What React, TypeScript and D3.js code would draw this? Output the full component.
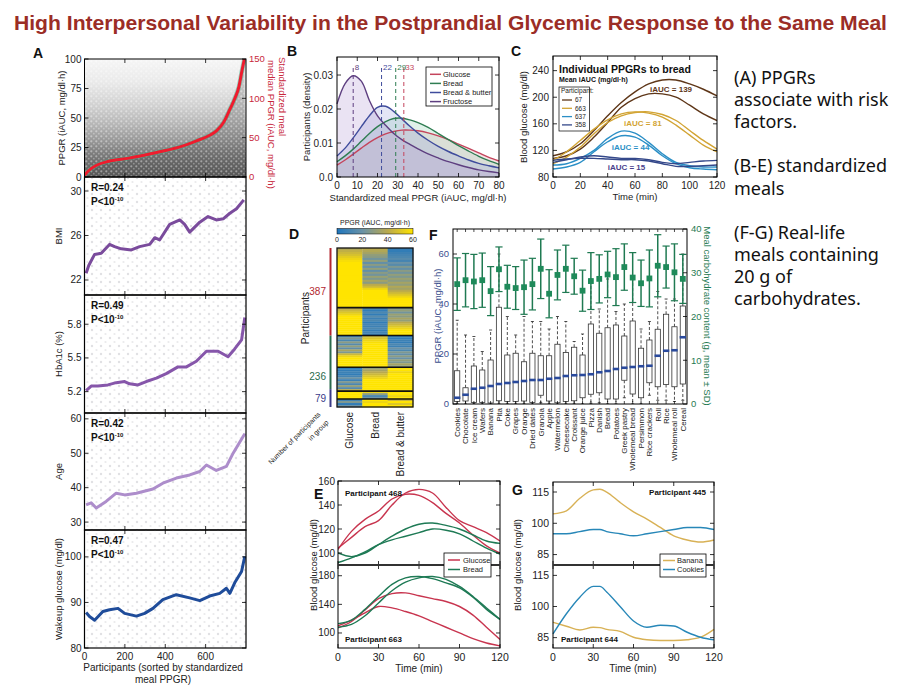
import React from "react";
import * as d3 from "d3";

const FONT = "'Liberation Sans', Arial, Helvetica, sans-serif";

// ================= Panel A data =================
const aSortIdx = [0, 20, 60, 120, 220, 300, 390, 480, 555, 620, 655, 690, 720, 745, 765, 780, 792];
const aMedianPPGR = [2, 8, 15, 20, 24, 28, 33, 39, 46, 53, 59, 70, 86, 100, 115, 135, 150];
const aCloudLevels = [0, 10, 20, 30, 45, 60, 80, 100];
const aCloudDensity = [0.9, 0.82, 0.72, 0.58, 0.4, 0.26, 0.12, 0.05];
const aXTicks = [0, 200, 400, 600];
const aTopTicks = [0, 25, 50, 75, 100];
const aRightTicks = [0, 50, 100, 150];

const bmiIdx = [8, 21, 50, 83, 124, 149, 182, 232, 273, 323, 348, 372, 422, 472, 496, 521, 571, 612, 653, 687, 720, 753, 789];
const bmiVal = [22.6, 23.3, 24.3, 24.4, 25.2, 25.0, 24.8, 24.7, 25.0, 25.2, 25.8, 25.6, 27.0, 27.4, 27.0, 26.3, 27.2, 27.7, 27.4, 27.5, 28.0, 28.4, 29.2];
const hbIdx = [8, 33, 66, 116, 157, 199, 223, 265, 306, 356, 405, 463, 505, 554, 604, 662, 711, 744, 778, 794];
const hbVal = [5.21, 5.25, 5.25, 5.26, 5.28, 5.29, 5.27, 5.26, 5.29, 5.32, 5.36, 5.42, 5.42, 5.47, 5.56, 5.56, 5.51, 5.58, 5.66, 5.86];
const ageIdx = [8, 33, 58, 107, 157, 199, 257, 339, 388, 455, 521, 571, 604, 653, 703, 737, 794];
const ageVal = [35.0, 35.6, 34.1, 36.0, 38.4, 37.9, 38.4, 39.6, 41.3, 42.8, 43.7, 44.7, 46.6, 45.0, 46.2, 50.1, 55.7];
const wakeIdx = [8, 25, 50, 91, 124, 166, 199, 257, 298, 339, 388, 455, 521, 571, 620, 670, 703, 720, 744, 778, 794];
const wakeVal = [87.8, 86.9, 86.1, 88.0, 88.4, 88.7, 87.6, 87.0, 87.6, 88.7, 90.6, 91.7, 91.0, 90.4, 91.4, 92.0, 93.1, 92.0, 94.3, 96.8, 100.1];

const aSubplots = [
  { name: "BMI", domain: [20.65, 31.26], ticks: [22, 26, 30], dec: 0, idx: bmiIdx, val: bmiVal, color: "#7a4b9c", R: "0.24" },
  { name: "HbA1c (%)", domain: [5.01, 6.06], ticks: [5.2, 5.5, 5.8], dec: 1, idx: hbIdx, val: hbVal, color: "#8656aa", R: "0.49" },
  { name: "Age", domain: [27.7, 61.7], ticks: [30, 40, 50, 60], dec: 0, idx: ageIdx, val: ageVal, color: "#ad8dcb", R: "0.42" },
  { name: "Wakeup glucose (mg/dl)", domain: [80, 105.9], ticks: [80, 90, 100], dec: 0, idx: wakeIdx, val: wakeVal, color: "#1f4c9a", R: "0.47" },
];

// ================= Panel B data =================
const bGrid = [0, 4, 8, 12, 16, 20, 24, 28, 32, 36, 40, 45, 50, 55, 60, 65, 70, 75, 80];
const bGlucose = [0.0035, 0.005, 0.0067, 0.0085, 0.0102, 0.0116, 0.0127, 0.0134, 0.0138, 0.0138, 0.0136, 0.013, 0.0121, 0.011, 0.0097, 0.0084, 0.0071, 0.0058, 0.0047];
const bBread = [0.0045, 0.0062, 0.0082, 0.0105, 0.0128, 0.0148, 0.0163, 0.0172, 0.0173, 0.0168, 0.016, 0.0146, 0.0128, 0.011, 0.0092, 0.0076, 0.0061, 0.0048, 0.0037];
const bBreadButter = [0.0062, 0.0085, 0.0115, 0.0148, 0.018, 0.0205, 0.0208, 0.0193, 0.0171, 0.0149, 0.0129, 0.0108, 0.009, 0.0075, 0.0062, 0.005, 0.004, 0.0033, 0.0027];
const bFructose = [0.0215, 0.0275, 0.0298, 0.0282, 0.0225, 0.018, 0.0152, 0.0128, 0.011, 0.0096, 0.0083, 0.0068, 0.0056, 0.0045, 0.0036, 0.0028, 0.0021, 0.0016, 0.0012];
const bNames = ["Glucose", "Bread", "Bread & butter", "Fructose"];
const bValues = [bGlucose, bBread, bBreadButter, bFructose];
const bLineColors = ["#c4455c", "#2f7d52", "#3f4c9c", "#5e3f80"];
const bFillColors = ["#e2a0a8", "#8fd0b0", "#9aa5e0", "#b49ad4"];
const bPeaks = [33, 29, 22, 8];
const bXTicks = [0, 10, 20, 30, 40, 50, 60, 70, 80];
const bYTicks = [0, 0.01, 0.02, 0.03];

// ================= Panel C data =================
const cTime = [0, 10, 20, 30, 40, 50, 60, 70, 80, 90, 100, 110, 120];
const c67a = [112, 118, 130, 150, 172, 192, 208, 220, 226, 226, 220, 212, 202];
const c67b = [108, 112, 122, 140, 162, 185, 198, 205, 205, 200, 188, 175, 165];
const c663a = [105, 118, 135, 152, 166, 175, 178, 176, 170, 158, 143, 128, 118];
const c663b = [100, 110, 125, 145, 162, 172, 177, 178, 174, 165, 150, 135, 122];
const c637a = [98, 100, 108, 120, 138, 149, 146, 132, 115, 102, 97, 95, 95];
const c637b = [92, 95, 102, 118, 133, 142, 140, 128, 112, 100, 94, 92, 91];
const c358a = [102, 106, 110, 112, 110, 108, 108, 106, 102, 100, 102, 104, 105];
const c358b = [105, 107, 108, 108, 107, 106, 106, 104, 100, 96, 96, 97, 98];
const cParticipants = ["67", "663", "637", "358"];
const cCurves = [[c67a, c67b], [c663a, c663b], [c637a, c637b], [c358a, c358b]];
const cColors = ["#5e3618", "#d2a434", "#2b8fc6", "#34488a"];
const cIAUC = [139, 81, 44, 15];
const cLabelPos = [[71, 212], [52, 161], [43, 125], [40, 95]];
const cXTicks = [0, 20, 40, 60, 80, 100, 120];
const cYTicks = [80, 120, 160, 200, 240];

// ================= Panel D data =================
const dColumns = ["Glucose", "Bread", "Bread & butter"];
const dGroupSizes = [30, 14, 16, 12, 4, 4];
const dRows: number[][] = [
  [38, 40, 5], [42, 38, 5], [45, 35, 8], [48, 30, 10], [52, 28, 12], [55, 22, 15], [58, 30, 10], [60, 18, 20],
  [60, 28, 15], [60, 20, 25], [60, 30, 18], [60, 18, 28], [60, 28, 22], [60, 22, 30], [60, 32, 25], [60, 25, 32],
  [60, 35, 28], [60, 28, 35], [60, 40, 30], [60, 45, 38], [60, 55, 34], [60, 60, 40], [60, 60, 45], [60, 60, 50],
  [60, 60, 55], [60, 60, 60], [60, 60, 60], [60, 60, 60], [60, 60, 60], [60, 60, 60],
  [40, 10, 25], [45, 5, 30], [50, 12, 22], [55, 5, 32], [60, 15, 28], [60, 8, 35], [60, 12, 30], [60, 5, 40],
  [60, 10, 45], [60, 8, 50], [60, 12, 55], [60, 5, 60], [60, 10, 60], [60, 6, 60],
  [10, 45, 5], [25, 50, 5], [12, 55, 8], [28, 58, 5], [15, 60, 12], [30, 60, 8], [18, 60, 20], [35, 60, 12],
  [25, 60, 25], [45, 60, 18], [55, 60, 28], [60, 60, 20], [60, 60, 30], [60, 60, 25], [60, 60, 35], [60, 60, 30],
  [5, 30, 60], [5, 35, 60], [8, 40, 55], [5, 45, 60], [10, 50, 60], [20, 55, 60], [8, 60, 60], [25, 60, 60],
  [12, 60, 60], [30, 60, 60], [15, 60, 60], [40, 60, 60],
  [60, 55, 60], [60, 30, 60], [60, 12, 55], [60, 20, 60],
  [10, 60, 45], [25, 55, 60], [5, 60, 50], [20, 60, 60],
];
const dCounts = [387, 236, 79];
const dCountColors = ["#b3262f", "#2a6b4c", "#3a3a88"];
const dBarTicks = [0, 20, 40, 60];
const dColorStops = [0, 20, 40, 60];
const dColorRange = ["#1f76bd", "#6a92a6", "#b9a94e", "#ffe400"];

// ================= Panel F data =================
const fFoods = ["Cookies", "Chocolate", "Ice cream", "Wafers", "Banana", "Pita", "Coke", "Grapes", "Orange", "Dried dates", "Granola", "Apple", "Watermelon", "Cheesecake", "Croissant", "Orange juice", "Pizza", "Danish", "Bread", "Potatoes", "Greek pastry", "Wholemeal bread", "Persimmon", "Rice crackers", "Roll", "Rice", "Wholemeal roll", "Cereal"];
const fMedian = [2.5, 3.7, 6.1, 6.5, 7.2, 8.0, 8.4, 8.8, 9.2, 9.6, 9.6, 10.1, 10.4, 11.2, 11.5, 11.6, 11.9, 12.7, 13.2, 14.0, 14.5, 14.8, 15.1, 15.3, 19.3, 21.3, 21.5, 26.7];
const fQ1 = [1.0, 1.2, 0.6, 0.6, 0.4, 1.3, 1.0, 1.0, 1.2, 0.6, 3.5, 1.2, 0.5, 1.0, 1.3, 2.5, 3.9, 4.5, 2.0, 2.0, 9.5, 4.0, 2.5, 8.5, 6.9, 7.8, 6.9, 8.0];
const fQ3 = [13.3, 6.5, 15.2, 13.6, 17.6, 38.7, 19.6, 20.3, 16.9, 20.3, 19.3, 19.3, 23.9, 20.6, 22.7, 19.6, 32.0, 28.3, 30.5, 31.6, 27.2, 33.2, 22.3, 25.6, 29.9, 35.9, 30.9, 39.2];
const fWhiskLo = [0, 0, 0, 0, 0, 0, 0, 0, 0, 0, 0.5, 0, 0, 0, 0, 0, 0.3, 0.5, 0, 0, 2.5, 0, 0, 3.5, 1.5, 1.5, 1, 1.5];
const fWhiskHi = [33.5, 27.6, 27, 21, 29.6, 60, 35, 27.6, 35, 33, 33, 30, 35, 33, 25, 28, 50, 38, 50, 37, 40, 50, 30, 33, 45, 42, 42, 60];
const fCarbMean = [27.4, 28.3, 28.0, 28.3, 25.8, 30.8, 26.8, 26.5, 26.7, 27.4, 30.9, 25.2, 29.5, 30.9, 29.2, 25.9, 28.1, 28.6, 29.6, 29.0, 31.3, 28.9, 27.6, 28.7, 31.6, 31.3, 30.1, 28.6];
const fCarbSD = [6.0, 6.1, 6.2, 6.2, 5.6, 5.1, 4.9, 4.9, 6.2, 5.9, 6.8, 5.5, 5.7, 5.4, 4.1, 4.7, 6.5, 5.5, 5.3, 6.5, 5.3, 5.7, 5.3, 6.5, 7.1, 4.8, 6.5, 5.6];
const fLeftTicks = [0, 20, 40, 60];
const fRightTicks = [0, 10, 20, 30, 40];

// ================= Panel E data =================
const eTime = [0, 10, 20, 30, 40, 50, 60, 70, 80, 90, 100, 110, 120];
const e468Glu1 = [104, 113, 122, 127, 140, 150, 153, 150, 138, 127, 122, 117, 110];
const e468Glu2 = [103, 118, 128, 135, 145, 149, 148, 142, 133, 125, 115, 106, 100];
const e468Br1 = [100, 97, 100, 107, 114, 120, 124, 125, 123, 120, 115, 110, 108];
const e468Br2 = [92, 96, 101, 107, 111, 114, 117, 120, 119, 116, 110, 104, 99];
const e663Glu1 = [110, 118, 128, 137, 135, 130, 124, 116, 108, 100, 92, 86, 82];
const e663Glu2 = [107, 116, 132, 148, 155, 156, 152, 148, 144, 137, 125, 108, 91];
const e663Br1 = [113, 118, 133, 151, 168, 177, 179, 176, 170, 163, 150, 133, 119];
const e663Br2 = [108, 112, 124, 142, 159, 171, 177, 179, 175, 165, 151, 135, 119];
const eXTicks = [0, 30, 60, 90, 120];
const eTopTicks = [100, 120, 140, 160];
const eBotTicks = [100, 140, 180];

// ================= Panel G data =================
const gTime = [0, 10, 20, 30, 35, 40, 50, 60, 70, 80, 90, 100, 110, 120];
const g445Banana = [104.5, 106, 112, 116, 116.3, 115, 110, 105.5, 102, 98, 94, 92, 91, 92];
const g445Cookies = [95, 95, 96, 97, 97, 96, 95, 94, 95, 96, 97, 98, 98, 97];
const g644Banana = [92.4, 90.5, 88.7, 90, 89.8, 89, 88, 85.2, 84, 83.6, 83.6, 84, 85.2, 89];
const g644Cookies = [86.8, 96.5, 104.5, 109.7, 109.7, 107, 100, 93, 90, 91, 90.6, 87.6, 85.2, 83.9];
const gYTicks = [85, 100, 115];

const sideLines = ["(A) PPGRs", "associate with risk", "factors.", "", "(B-E) standardized", "meals", "", "(F-G) Real-life", "meals containing", "20 g of", "carbohydrates."];

type Sc = d3.ScaleLinear<number, number>;

function yTicks(y: Sc, ticks: number[], xL: number, xR: number | null, len = 4, key = "y") {
  return ticks.map((t, i) => (
    <g key={key + i}>
      <line x1={xL} x2={xL + len} y1={y(t)} y2={y(t)} stroke="#000" strokeWidth={0.8} />
      {xR !== null && <line x1={xR} x2={xR - len} y1={y(t)} y2={y(t)} stroke="#000" strokeWidth={0.8} />}
    </g>
  ));
}
function xTicks(x: Sc, ticks: number[], yB: number, yT: number | null, len = 4, key = "x") {
  return ticks.map((t, i) => (
    <g key={key + i}>
      <line x1={x(t)} x2={x(t)} y1={yB} y2={yB - len} stroke="#000" strokeWidth={0.8} />
      {yT !== null && <line x1={x(t)} x2={x(t)} y1={yT} y2={yT + len} stroke="#000" strokeWidth={0.8} />}
    </g>
  ));
}
function yLabels(y: Sc, ticks: number[], xPos: number, fmt: (v: number) => string, fs: number, color = "#222", anchor = "end", key = "yl") {
  return ticks.map((t, i) => (
    <text key={key + i} x={xPos} y={y(t)} dy="0.35em" fontSize={fs} fill={color} textAnchor={anchor}>{fmt(t)}</text>
  ));
}
function xLabels(x: Sc, ticks: number[], yPos: number, fmt: (v: number) => string, fs: number, color = "#222", key = "xl") {
  return ticks.map((t, i) => (
    <text key={key + i} x={x(t)} y={yPos} fontSize={fs} fill={color} textAnchor="middle">{fmt(t)}</text>
  ));
}
const Letter = ({ x, y, t }: { x: number; y: number; t: string }) => (
  <text x={x} y={y} fontSize={14} fontWeight="bold" fill="#111">{t}</text>
);
function RotLabel({ x, y, t, fs = 10, color = "#222", rot = -90, anchor = "middle" }: any) {
  return (
    <text transform={`translate(${x},${y}) rotate(${rot})`} fontSize={fs} fill={color} textAnchor={anchor}>{t}</text>
  );
}

// ================= Panel A =================
function PanelA() {
  const edges = [59, 177, 295, 413, 530, 648];
  const x0 = 84.5, x1 = 246;
  const x = d3.scaleLinear().domain([0, 800]).range([x0, x1]);
  const yL = d3.scaleLinear().domain([0, 100]).range([edges[1], edges[0]]);
  const yR = d3.scaleLinear().domain([0, 150]).range([edges[1], edges[0]]);
  const redPath = d3.line<number>().x((_, i) => x(aSortIdx[i])).y((d) => yR(d)).curve(d3.curveMonotoneX)(aMedianPPGR) || "";
  const underRed = d3.area<number>().x((_, i) => x(aSortIdx[i])).y0(edges[1]).y1((d) => yR(d)).curve(d3.curveMonotoneX)(aMedianPPGR) || "";
  return (
    <g>
      <defs>
        <linearGradient id="aCloud" gradientUnits="userSpaceOnUse" x1={0} x2={0} y1={yL(0)} y2={yL(100)}>
          {aCloudLevels.map((l, i) => (
            <stop key={i} offset={l / 100} stopColor="#4a4a4a" stopOpacity={aCloudDensity[i]} />
          ))}
        </linearGradient>
        <pattern id="aSpeck" width={5} height={5} patternUnits="userSpaceOnUse">
          <circle cx={1.3} cy={1.3} r={1.1} fill="#fff" opacity={0.4} />
          <circle cx={3.8} cy={3.7} r={0.9} fill="#fff" opacity={0.3} />
        </pattern>
        <pattern id="aDots" width={9} height={8} patternUnits="userSpaceOnUse">
          <circle cx={2} cy={2} r={1.2} fill="#9a9aa4" opacity={0.3} />
          <circle cx={6.5} cy={6} r={1.1} fill="#9a9aa4" opacity={0.22} />
        </pattern>
        <clipPath id="aClipTop"><rect x={x0} y={edges[0]} width={x1 - x0} height={edges[1] - edges[0]} /></clipPath>
      </defs>
      <Letter x={33} y={58} t="A" />
      <g clipPath="url(#aClipTop)">
        <rect x={x0} y={edges[0]} width={x1 - x0} height={edges[1] - edges[0]} fill="url(#aCloud)" />
        <path d={underRed} fill="#444" opacity={0.22} />
        <rect x={x0} y={edges[0]} width={x1 - x0} height={edges[1] - edges[0]} fill="url(#aSpeck)" />
        <path d={redPath} fill="none" stroke="#3fb08a" strokeWidth={4.5} opacity={0.5} />
        <path d={redPath} fill="none" stroke="#ee1c2e" strokeWidth={3} />
      </g>
      {yTicks(yL, aTopTicks, x0, null, 4, "at")}
      {aRightTicks.map((t, i) => (
        <line key={"ar" + i} x1={x1} x2={x1 - 4} y1={yR(t)} y2={yR(t)} stroke="#000" strokeWidth={0.8} />
      ))}
      {xTicks(x, aXTicks, edges[1], edges[0], 4, "axt")}
      {yLabels(yL, aTopTicks, x0 - 3, (v) => String(v), 10, "#222", "end", "atl")}
      {yLabels(yR, aRightTicks, x1 + 3, (v) => String(v), 9.5, "#c8283c", "start", "arl")}
      <rect x={x0} y={edges[0]} width={x1 - x0} height={edges[1] - edges[0]} fill="none" stroke="#000" strokeWidth={1} />
      <RotLabel x={65} y={118} t="PPGR (iAUC, mg/dl·h)" fs={9.5} />
      <RotLabel x={279} y={57} t="Standardized meal" fs={9.5} color="#c8283c" rot={90} anchor="start" />
      <RotLabel x={268} y={60} t="median PPGR (iAUC, mg/dl·h)" fs={9.5} color="#c8283c" rot={90} anchor="start" />

      {aSubplots.map((sp, k) => {
        const top = edges[k + 1], bot = edges[k + 2];
        const y = d3.scaleLinear().domain(sp.domain).range([bot, top]);
        const p = d3.line<number>().x((_, i) => x(sp.idx[i])).y((d) => y(d))(sp.val) || "";
        return (
          <g key={"sp" + k}>
            <rect x={x0} y={top} width={x1 - x0} height={bot - top} fill="url(#aDots)" />
            <path d={p} fill="none" stroke={sp.color} strokeWidth={3} strokeLinejoin="round" />
            {yTicks(y, sp.ticks, x0, x1, 4, "st" + k)}
            {xTicks(x, aXTicks, bot, top, 4, "sx" + k)}
            {yLabels(y, sp.ticks, x0 - 3, (v) => v.toFixed(sp.dec), 10, "#222", "end", "sl" + k)}
            <rect x={x0} y={top} width={x1 - x0} height={bot - top} fill="none" stroke="#000" strokeWidth={1.2} />
            <text x={91} y={top + 14} fontSize={10} fontWeight="bold" fill="#111">R={sp.R}</text>
            <text x={91} y={top + 28} fontSize={10} fontWeight="bold" fill="#111">
              P&lt;10<tspan dy={-4} fontSize={6}>-10</tspan>
            </text>
            <RotLabel x={62} y={(top + bot) / 2} t={sp.name} fs={9.5} />
          </g>
        );
      })}
      {xLabels(x, aXTicks, edges[5] + 12, (v) => String(v), 10, "#222", "axl")}
      <text x={163} y={671} fontSize={10} textAnchor="middle" fill="#222">Participants (sorted by standardized</text>
      <text x={163} y={683} fontSize={10} textAnchor="middle" fill="#222">meal PPGR)</text>
    </g>
  );
}

// ================= Panel B =================
function PanelB() {
  const L = 337, R = 499, T = 57, B = 177;
  const x = d3.scaleLinear().domain([0, 80]).range([L, R]);
  const y = d3.scaleLinear().domain([0, 0.0353]).range([B, T]);
  const line = (vals: number[]) => d3.line<number>().x((_, i) => x(bGrid[i])).y((d) => y(d)).curve(d3.curveCatmullRom)(vals) || "";
  const area = (vals: number[]) => d3.area<number>().x((_, i) => x(bGrid[i])).y0(B).y1((d) => y(d)).curve(d3.curveCatmullRom)(vals) || "";
  return (
    <g>
      <Letter x={287} y={56} t="B" />
      {bValues.map((v, i) => (
        <path key={"ba" + i} d={area(v)} fill={bFillColors[i]} opacity={0.28} />
      ))}
      {bValues.map((v, i) => (
        <path key={"bl" + i} d={line(v)} fill="none" stroke={bLineColors[i]} strokeWidth={1.4} />
      ))}
      {bPeaks.map((p, i) => (
        <g key={"bp" + i}>
          <line x1={x(p)} x2={x(p)} y1={B} y2={66} stroke={bLineColors[i]} strokeWidth={1} strokeDasharray="4,3" />
          <text x={x(p) + 1.5} y={70} fontSize={8} fill={bLineColors[i]}>{p}</text>
        </g>
      ))}
      {yTicks(y, bYTicks, L, R, 4, "byt")}
      {xTicks(x, bXTicks, B, T, 4, "bxt")}
      {yLabels(y, bYTicks, L - 4, (v) => (v === 0 ? "0.0" : v.toFixed(2)), 10, "#222", "end", "byl")}
      {xLabels(x, bXTicks, B + 12, (v) => String(v), 10, "#222", "bxl")}
      <rect x={L} y={T} width={R - L} height={B - T} fill="none" stroke="#000" strokeWidth={1} />
      <rect x={426} y={67} width={66} height={39} fill="#fff" stroke="#000" strokeWidth={0.8} />
      {bNames.map((n, i) => (
        <g key={"bleg" + i}>
          <line x1={430} x2={441} y1={74.3 + i * 9.1} y2={74.3 + i * 9.1} stroke={bLineColors[i]} strokeWidth={1.5} />
          <text x={443} y={74.3 + i * 9.1} dy="0.35em" fontSize={7.5} fill="#222">{n}</text>
        </g>
      ))}
      <RotLabel x={310} y={117} t="Participants (density)" fs={9.5} />
      <text x={418} y={201} fontSize={9.5} textAnchor="middle" fill="#222">Standardized meal PPGR (iAUC, mg/dl·h)</text>
    </g>
  );
}

// ================= Panel C =================
function PanelC() {
  const L = 553, R = 717, T = 56, B = 177;
  const x = d3.scaleLinear().domain([0, 120]).range([L, R]);
  const y = d3.scaleLinear().domain([80, 262]).range([B, T]);
  const line = (vals: number[]) => d3.line<number>().x((_, i) => x(cTime[i])).y((d) => y(d)).curve(d3.curveCatmullRom)(vals) || "";
  return (
    <g>
      <defs><clipPath id="cClip"><rect x={L} y={T} width={R - L} height={B - T} /></clipPath></defs>
      <Letter x={511} y={56} t="C" />
      <g clipPath="url(#cClip)">
        {cCurves.map((pair, i) =>
          pair.map((v, j) => <path key={`c${i}${j}`} d={line(v)} fill="none" stroke={cColors[i]} strokeWidth={1.4} />)
        )}
      </g>
      {cIAUC.map((a, i) => (
        <text key={"ci" + i} x={x(cLabelPos[i][0])} y={y(cLabelPos[i][1])} dy="0.35em" fontSize={8} fontWeight="bold" fill={i === 3 ? "#4a3f8c" : cColors[i]}>iAUC = {a}</text>
      ))}
      {yTicks(y, cYTicks, L, R, 4, "cyt")}
      {xTicks(x, cXTicks, B, T, 4, "cxt")}
      {yLabels(y, cYTicks, L - 4, (v) => String(v), 10, "#222", "end", "cyl")}
      {xLabels(x, cXTicks, B + 12, (v) => String(v), 10, "#222", "cxl")}
      <rect x={L} y={T} width={R - L} height={B - T} fill="none" stroke="#000" strokeWidth={1} />
      <text x={559} y={73} fontSize={10.5} fontWeight="bold" fill="#111">Individual PPGRs to bread</text>
      <text x={559} y={81.5} fontSize={7} fontWeight="bold" fill="#111">Mean iAUC (mg/dl·h)</text>
      <rect x={559} y={87} width={30.5} height={44} fill="#fff" stroke="#000" strokeWidth={0.7} />
      <text x={561} y={92.5} fontSize={6.5} fill="#222">Participant:</text>
      {cParticipants.map((p, i) => (
        <g key={"cl" + i}>
          <line x1={562} x2={572} y1={100 + i * 8.3} y2={100 + i * 8.3} stroke={cColors[i]} strokeWidth={1.3} />
          <text x={575} y={100 + i * 8.3} dy="0.35em" fontSize={6.5} fill="#222">{p}</text>
        </g>
      ))}
      <RotLabel x={527} y={117} t="Blood glucose (mg/dl)" fs={9.5} />
      <text x={635} y={200} fontSize={9.5} textAnchor="middle" fill="#222">Time (min)</text>
    </g>
  );
}

// ================= Panel D =================
function PanelD() {
  const L = 337, R = 413, T = 248, B = 407;
  const color = d3.scaleLinear<string>().domain(dColorStops).range(dColorRange);
  const xb = d3.scaleBand().domain(dColumns).range([L, R]);
  const rowIds = dRows.map((_, i) => i);
  const yb = d3.scaleBand<number>().domain(rowIds).range([T, B]);
  const cum = d3.cumsum(dGroupSizes);
  const cb = d3.scaleLinear().domain([0, 60]).range([L, R]);
  const totalN = d3.sum(dCounts);
  const yc = d3.scaleLinear().domain([0, totalN]).range([T, B]);
  const cumN = [0, ...Array.from(d3.cumsum(dCounts))];
  return (
    <g>
      <defs>
        <linearGradient id="dBar" x1="0" x2="1" y1="0" y2="0">
          {dColorStops.map((s, i) => <stop key={i} offset={s / 60} stopColor={dColorRange[i]} />)}
        </linearGradient>
      </defs>
      <Letter x={289} y={239} t="D" />
      <text x={375} y={225} fontSize={7} textAnchor="middle" fill="#222">PPGR (iAUC, mg/dl·h)</text>
      <rect x={L} y={228.5} width={R - L} height={5.5} fill="url(#dBar)" stroke="#000" strokeWidth={0.5} />
      {dBarTicks.map((t, i) => (
        <text key={"dbt" + i} x={cb(t)} y={242} fontSize={7} textAnchor="middle" fill="#222">{t}</text>
      ))}
      {dRows.map((row, r) =>
        row.map((v, c) => (
          <rect key={`d${r}-${c}`} x={xb(dColumns[c])} y={yb(r)} width={xb.bandwidth() + 0.3} height={yb.bandwidth() + 0.3} fill={color(v)} />
        ))
      )}
      {Array.from(cum).slice(0, -1).map((c, i) => (
        <line key={"dg" + i} x1={L} x2={R} y1={T + yb.step() * c} y2={T + yb.step() * c} stroke="#111" strokeWidth={1.6} />
      ))}
      <rect x={L} y={T} width={R - L} height={B - T} fill="none" stroke="#111" strokeWidth={1.3} />
      {dCounts.map((n, i) => (
        <g key={"dc" + i}>
          <line x1={330.5} x2={330.5} y1={yc(cumN[i])} y2={yc(cumN[i + 1])} stroke={dCountColors[i]} strokeWidth={2} />
          <text x={326} y={(yc(cumN[i]) + yc(cumN[i + 1])) / 2 + (i === 0 ? 0 : i === 1 ? 14 : 0)} dy="0.35em" fontSize={10} textAnchor="end" fill={dCountColors[i]}>{n}</text>
        </g>
      ))}
      <RotLabel x={309} y={318} t="Participants" fs={10} />
      {dColumns.map((c, i) => (
        <RotLabel key={"dcl" + i} x={(xb(c) || 0) + xb.bandwidth() / 2 + 3.5} y={412} t={c} fs={10} anchor="end" />
      ))}
      <RotLabel x={321} y={415} t="Number of participants" fs={7} rot={-45} anchor="end" />
      <RotLabel x={329} y={423} t="in group" fs={7} rot={-45} anchor="end" />
    </g>
  );
}

// ================= Panel F =================
function PanelF() {
  const L = 453, R = 687, T = 229, B = 404;
  const x = d3.scaleBand().domain(fFoods).range([L, R]);
  const bw = x.bandwidth();
  const cx = (i: number) => (x(fFoods[i]) || 0) + bw / 2;
  const yL = d3.scaleLinear().domain([0, 70]).range([B, T]);
  const yR = d3.scaleLinear().domain([0, 40]).range([B, T]);
  const blue = "#3b4f8e", green = "#1f7a52";
  return (
    <g>
      <defs><clipPath id="fClip"><rect x={L} y={T} width={R - L} height={B - T} /></clipPath></defs>
      <Letter x={429} y={240} t="F" />
      <g clipPath="url(#fClip)">
        {fFoods.map((f, i) => (
          <g key={"fb" + i}>
            <line x1={cx(i)} x2={cx(i)} y1={yL(fQ3[i])} y2={yL(fWhiskHi[i])} stroke="#222" strokeWidth={0.8} strokeDasharray="3,2" />
            <line x1={cx(i)} x2={cx(i)} y1={yL(fQ1[i])} y2={yL(fWhiskLo[i])} stroke="#222" strokeWidth={0.8} strokeDasharray="3,2" />
            <line x1={cx(i) - 1.5} x2={cx(i) + 1.5} y1={yL(fWhiskHi[i])} y2={yL(fWhiskHi[i])} stroke="#222" strokeWidth={0.8} />
            <line x1={cx(i) - 1.5} x2={cx(i) + 1.5} y1={yL(fWhiskLo[i])} y2={yL(fWhiskLo[i])} stroke="#222" strokeWidth={0.8} />
            <rect x={cx(i) - 2.6} y={yL(fQ3[i])} width={5.2} height={yL(fQ1[i]) - yL(fQ3[i])} fill="#fff" stroke="#333" strokeWidth={0.8} />
            <line x1={cx(i) - 3.2} x2={cx(i) + 3.2} y1={yL(fMedian[i])} y2={yL(fMedian[i])} stroke="#2a4a9c" strokeWidth={2.6} />
          </g>
        ))}
        {fFoods.map((f, i) => {
          const hi = yR(fCarbMean[i] + fCarbSD[i]), lo = yR(fCarbMean[i] - fCarbSD[i]), m = yR(fCarbMean[i]);
          return (
            <g key={"fc" + i}>
              <line x1={cx(i)} x2={cx(i)} y1={hi} y2={lo} stroke={green} strokeWidth={1.5} />
              <line x1={cx(i) - 3.6} x2={cx(i) + 3.6} y1={hi} y2={hi} stroke={green} strokeWidth={1.2} />
              <line x1={cx(i) - 3.6} x2={cx(i) + 3.6} y1={lo} y2={lo} stroke={green} strokeWidth={1.2} />
              <rect x={cx(i) - 2.9} y={m - 2.9} width={5.8} height={5.8} fill="#1f8a5a" />
            </g>
          );
        })}
      </g>
      {fFoods.map((f, i) => (
        <g key={"ft" + i}>
          <line x1={cx(i)} x2={cx(i)} y1={T} y2={T + 3} stroke="#000" strokeWidth={0.7} />
          <line x1={cx(i)} x2={cx(i)} y1={B} y2={B - 3} stroke="#000" strokeWidth={0.7} />
          <RotLabel x={cx(i) + 2.8} y={408} t={f} fs={8} anchor="end" />
        </g>
      ))}
      {fLeftTicks.map((t, i) => (
        <line key={"flt" + i} x1={L} x2={L + 4} y1={yL(t)} y2={yL(t)} stroke="#000" strokeWidth={0.8} />
      ))}
      {fRightTicks.map((t, i) => (
        <line key={"frt" + i} x1={R} x2={R - 4} y1={yR(t)} y2={yR(t)} stroke="#000" strokeWidth={0.8} />
      ))}
      {yLabels(yL, fLeftTicks, L - 4, (v) => String(v), 9.5, blue, "end", "fll")}
      {yLabels(yR, fRightTicks, R + 4, (v) => String(v), 9.5, green, "start", "frl")}
      <rect x={L} y={T} width={R - L} height={B - T} fill="none" stroke="#000" strokeWidth={1} />
      <RotLabel x={441} y={316} t="PPGR (iAUC, mg/dl·h)" fs={9.5} color={blue} />
      <RotLabel x={704} y={316} t="Meal carbohydrate content (g, mean ± SD)" fs={9.5} color={green} rot={90} />
    </g>
  );
}

// ================= Panel E =================
function PanelE() {
  const L = 338, R = 500, T = 481, M = 565, B = 648;
  const x = d3.scaleLinear().domain([0, 120]).range([L, R]);
  const yT = d3.scaleLinear().domain([90, 160]).range([M, T]);
  const yB = d3.scaleLinear().domain([79, 195]).range([B, M]);
  const mk = (y: Sc) => (vals: number[]) => d3.line<number>().x((_, i) => x(eTime[i])).y((d) => y(d)).curve(d3.curveCatmullRom)(vals) || "";
  const lt = mk(yT), lb = mk(yB);
  const red = "#c8354f", green = "#1e7a55";
  return (
    <g>
      <defs>
        <clipPath id="eClipT"><rect x={L} y={T} width={R - L} height={M - T} /></clipPath>
        <clipPath id="eClipB"><rect x={L} y={M} width={R - L} height={B - M} /></clipPath>
      </defs>
      <Letter x={314} y={499} t="E" />
      <g clipPath="url(#eClipT)">
        {[e468Glu1, e468Glu2].map((v, i) => <path key={"et" + i} d={lt(v)} fill="none" stroke={red} strokeWidth={1.4} />)}
        {[e468Br1, e468Br2].map((v, i) => <path key={"eg" + i} d={lt(v)} fill="none" stroke={green} strokeWidth={1.4} />)}
      </g>
      <g clipPath="url(#eClipB)">
        {[e663Glu1, e663Glu2].map((v, i) => <path key={"ebt" + i} d={lb(v)} fill="none" stroke={red} strokeWidth={1.4} />)}
        {[e663Br1, e663Br2].map((v, i) => <path key={"ebg" + i} d={lb(v)} fill="none" stroke={green} strokeWidth={1.4} />)}
      </g>
      {yTicks(yT, eTopTicks, L, R, 4, "ett")}
      {yTicks(yB, eBotTicks, L, R, 4, "ebt")}
      {xTicks(x, eXTicks, M, T, 4, "ext1")}
      {xTicks(x, eXTicks, B, M, 4, "ext2")}
      {yLabels(yT, eTopTicks, L - 3, (v) => String(v), 10, "#222", "end", "etl")}
      {yLabels(yB, eBotTicks, L - 3, (v) => String(v), 10, "#222", "end", "ebl")}
      {xLabels(x, eXTicks, B + 13, (v) => String(v), 10.5, "#222", "exl")}
      <rect x={L} y={T} width={R - L} height={B - T} fill="none" stroke="#000" strokeWidth={1} />
      <line x1={L} x2={R} y1={M} y2={M} stroke="#333" strokeWidth={2.2} />
      <text x={345} y={496} fontSize={8} fontWeight="bold" fill="#111">Participant 468</text>
      <text x={345} y={642} fontSize={8} fontWeight="bold" fill="#111">Participant 663</text>
      <rect x={444} y={553} width={47} height={24} fill="#fff" stroke="#000" strokeWidth={0.8} />
      <line x1={448} x2={460} y1={560} y2={560} stroke={red} strokeWidth={1.5} />
      <text x={463} y={560} dy="0.35em" fontSize={7.5} fill="#222">Glucose</text>
      <line x1={448} x2={460} y1={569.5} y2={569.5} stroke={green} strokeWidth={1.5} />
      <text x={463} y={569.5} dy="0.35em" fontSize={7.5} fill="#222">Bread</text>
      <RotLabel x={317} y={565} t="Blood glucose (mg/dl)" fs={9.5} />
      <text x={419} y={672} fontSize={10} textAnchor="middle" fill="#222">Time (min)</text>
    </g>
  );
}

// ================= Panel G =================
function PanelG() {
  const L = 553, R = 714, T = 482, M = 565, B = 648;
  const x = d3.scaleLinear().domain([0, 120]).range([L, R]);
  const yT = d3.scaleLinear().domain([80, 119.8]).range([M, T]);
  const yB = d3.scaleLinear().domain([80, 120]).range([B, M]);
  const mk = (y: Sc) => (vals: number[]) => d3.line<number>().x((_, i) => x(gTime[i])).y((d) => y(d)).curve(d3.curveMonotoneX)(vals) || "";
  const lt = mk(yT), lb = mk(yB);
  const gold = "#d8b155", blue = "#2787b8";
  return (
    <g>
      <Letter x={512} y={495} t="G" />
      <path d={lt(g445Banana)} fill="none" stroke={gold} strokeWidth={1.4} />
      <path d={lt(g445Cookies)} fill="none" stroke={blue} strokeWidth={1.4} />
      <path d={lb(g644Banana)} fill="none" stroke={gold} strokeWidth={1.4} />
      <path d={lb(g644Cookies)} fill="none" stroke={blue} strokeWidth={1.4} />
      {yTicks(yT, gYTicks, L, R, 4, "gtt")}
      {yTicks(yB, gYTicks, L, R, 4, "gbt")}
      {xTicks(x, eXTicks, M, T, 4, "gxt1")}
      {xTicks(x, eXTicks, B, M, 4, "gxt2")}
      {yLabels(yT, gYTicks, L - 4, (v) => String(v), 10.5, "#222", "end", "gtl")}
      {yLabels(yB, gYTicks, L - 4, (v) => String(v), 10.5, "#222", "end", "gbl")}
      {xLabels(x, eXTicks, B + 13, (v) => String(v), 10.5, "#222", "gxl")}
      <rect x={L} y={T} width={R - L} height={B - T} fill="none" stroke="#000" strokeWidth={1} />
      <line x1={L} x2={R} y1={M} y2={M} stroke="#333" strokeWidth={2.2} />
      <text x={706} y={495} fontSize={8} fontWeight="bold" fill="#111" textAnchor="end">Participant 445</text>
      <text x={561} y={642} fontSize={8} fontWeight="bold" fill="#111">Participant 644</text>
      <rect x={660} y={554} width={46} height={23} fill="#fff" stroke="#000" strokeWidth={0.8} />
      <line x1={663} x2={675} y1={560.5} y2={560.5} stroke={gold} strokeWidth={1.5} />
      <text x={677} y={560.5} dy="0.35em" fontSize={7.5} fill="#222">Banana</text>
      <line x1={663} x2={675} y1={569.5} y2={569.5} stroke={blue} strokeWidth={1.5} />
      <text x={677} y={569.5} dy="0.35em" fontSize={7.5} fill="#222">Cookies</text>
      <RotLabel x={521} y={565} t="Blood glucose (mg/dl)" fs={9.5} />
      <text x={633} y={672} fontSize={10} textAnchor="middle" fill="#222">Time (min)</text>
    </g>
  );
}

function SideText() {
  return (
    <g fontFamily="'Noto Sans', 'Open Sans', sans-serif" fontSize={18} fill="#111">
      {sideLines.map((l, i) => (
        <text key={"st" + i} x={734} y={84 + i * 22.1}>{l}</text>
      ))}
    </g>
  );
}

export default function App() {
  return (
    <svg width={903} height={692} style={{ position: "absolute", left: 0, top: 0, background: "#fff" }} fontFamily={FONT}>
      <rect width={903} height={692} fill="#fff" />
      <text x={14} y={30} fontSize={21} fill="#9b2d26" fontWeight="bold" textLength={873} lengthAdjust="spacingAndGlyphs">
        High Interpersonal Variability in the Postprandial Glycemic Response to the Same Meal
      </text>
      <PanelA />
      <PanelB />
      <PanelC />
      <PanelD />
      <PanelF />
      <PanelE />
      <PanelG />
      <SideText />
    </svg>
  );
}
